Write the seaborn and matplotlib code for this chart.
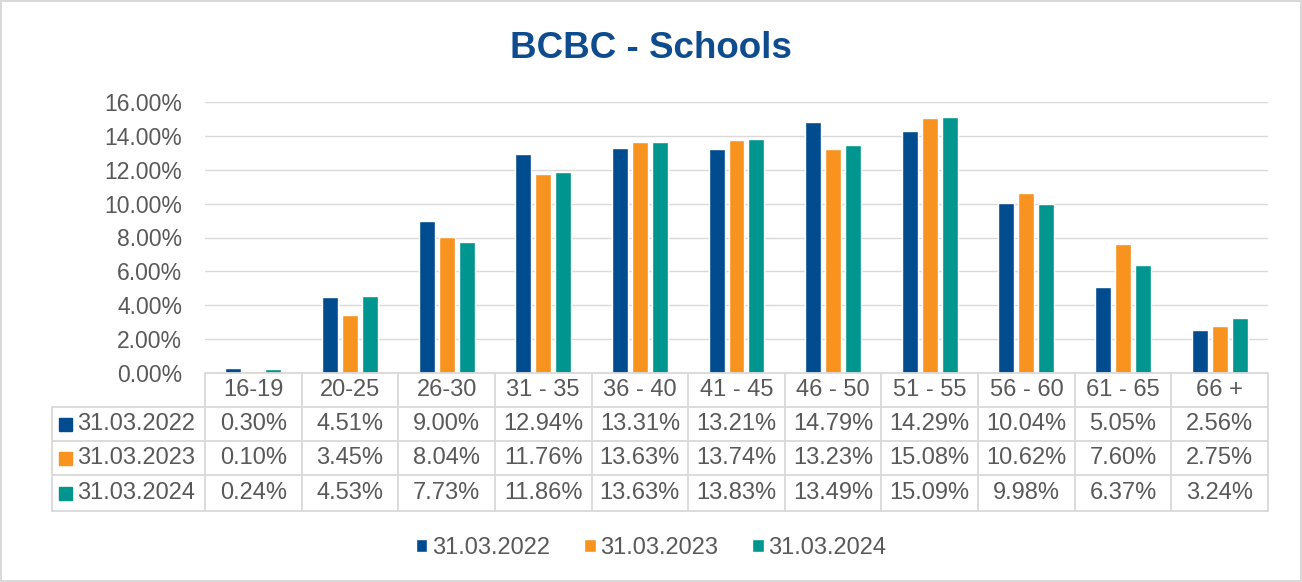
import matplotlib
matplotlib.use("Agg")
import matplotlib.pyplot as plt
from matplotlib.patches import Rectangle
from matplotlib.lines import Line2D
import seaborn as sns
import pandas as pd

age_groups = ['16-19', '20-25', '26-30', '31 - 35', '36 - 40', '41 - 45',
              '46 - 50', '51 - 55', '56 - 60', '61 - 65', '66 +']
series_names = ['31.03.2022', '31.03.2023', '31.03.2024']
vals_2022 = [0.30, 4.51, 9.00, 12.94, 13.31, 13.21, 14.79, 14.29, 10.04, 5.05, 2.56]
vals_2023 = [0.10, 3.45, 8.04, 11.76, 13.63, 13.74, 13.23, 15.08, 10.62, 7.60, 2.75]
vals_2024 = [0.24, 4.53, 7.73, 11.86, 13.63, 13.83, 13.49, 15.09, 9.98, 6.37, 3.24]
colors = ['#004C8F', '#F7931E', '#00968F']

df = pd.DataFrame({
    'age': age_groups * 3,
    'series': [s for s in series_names for _ in age_groups],
    'pct': vals_2022 + vals_2023 + vals_2024,
})

sns.set_style('white')
plt.rcParams['font.family'] = ['Liberation Sans', 'DejaVu Sans']
text_col = '#595959'
grid_col = '#D9D9D9'
fs = 17

W, H = 1302, 582
fig = plt.figure(figsize=(W / 100, H / 100), dpi=100)
fig.patch.set_edgecolor(grid_col)
fig.patch.set_linewidth(1.5)

# axes in pixel layout
L, R, T, B = 205, 1268, 102, 373
ax = fig.add_axes([L / W, 1 - B / H, (R - L) / W, (B - T) / H])

sns.barplot(data=df, x='age', y='pct', hue='series', palette=colors,
            width=0.62, gap=0.2, ax=ax, legend=True, saturation=1)
ax.set_xlim(-0.5, len(age_groups) - 0.5)
ax.set_ylim(0, 16)
ax.set_yticks(range(0, 17, 2))
ax.set_yticklabels([f'{v:.2f}%' for v in range(0, 17, 2)], fontsize=16.5, color=text_col)
ax.tick_params(axis='y', length=0, pad=16.5)
ax.set_xticks([])
ax.set_xlabel('')
ax.set_ylabel('')
ax.grid(axis='y', color=grid_col, linewidth=1)
ax.set_axisbelow(True)
for sp in ax.spines.values():
    sp.set_visible(False)

handles, labels = ax.get_legend_handles_labels()
ax.get_legend().remove()

fig.text(0.5, 1 - 48 / H, 'BCBC - Schools', ha='center', va='center',
         fontsize=26.5, fontweight='bold', color='#0E4C8E')

# data table below the chart
def fx(px):
    return px / W

def fy(py):
    return 1 - py / H

row_edges = [373, 407, 441, 475, 511]
tab_left = 52
ncol = len(age_groups)
colw = (R - L) / ncol
lkw = dict(color=grid_col, linewidth=1.3, transform=fig.transFigure)

fig.add_artist(Line2D([fx(L), fx(R)], [fy(373), fy(373)], **lkw))
for yy in row_edges[1:]:
    fig.add_artist(Line2D([fx(tab_left), fx(R)], [fy(yy), fy(yy)], **lkw))
for k in range(ncol + 1):
    xx = L + k * colw
    fig.add_artist(Line2D([fx(xx), fx(xx)], [fy(373), fy(511)], **lkw))
fig.add_artist(Line2D([fx(tab_left), fx(tab_left)], [fy(407), fy(511)], **lkw))

for i, lab in enumerate(age_groups):
    cx = L + (i + 0.5) * colw
    fig.text(fx(cx), fy((row_edges[0] + row_edges[1]) / 2), lab, ha='center',
             va='center', fontsize=fs, color=text_col)

for r, (name, vals, c) in enumerate(zip(series_names, [vals_2022, vals_2023, vals_2024], colors)):
    cy = (row_edges[r + 1] + row_edges[r + 2]) / 2
    fig.add_artist(Rectangle((fx(59), fy(cy + 6.5)), 13 / W, 13 / H, color=c,
                             transform=fig.transFigure))
    fig.text(fx(77), fy(cy), name, ha='left', va='center', fontsize=fs, color=text_col)
    for i, v in enumerate(vals):
        cx = L + (i + 0.5) * colw
        fig.text(fx(cx), fy(cy), f'{v:.2f}%', ha='center', va='center',
                 fontsize=fs, color=text_col)

fig.legend(handles, labels, loc='center', bbox_to_anchor=(0.5, fy(548)), ncol=3,
           frameon=False, fontsize=fs, labelcolor=text_col, handlelength=0.5,
           handleheight=0.5, handletextpad=0.2, columnspacing=1.42)

fig.savefig('out.png', dpi=100)
